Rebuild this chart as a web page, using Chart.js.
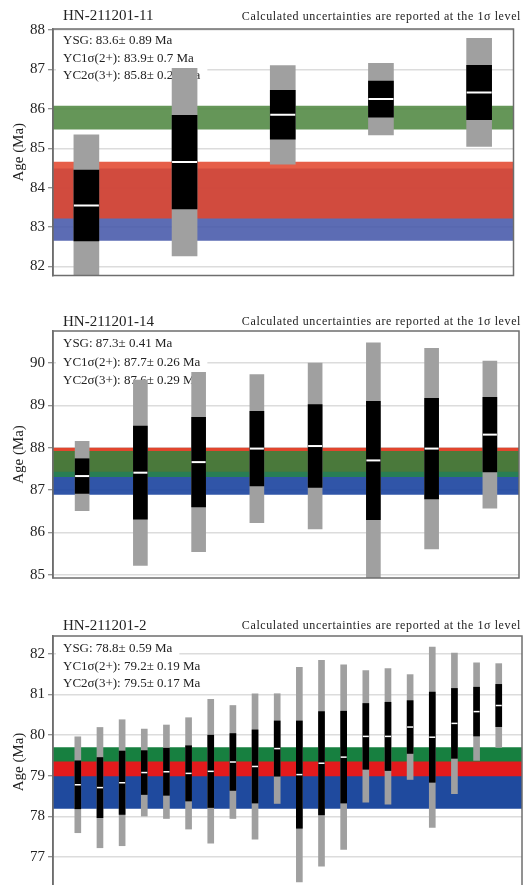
<!DOCTYPE html>
<html>
<head>
<meta charset="utf-8">
<script src="https://cdn.jsdelivr.net/npm/chart.js@4"></script>
<style>
body{margin:0;background:#fff;overflow:hidden;width:528px;height:885px;position:relative}
canvas{position:absolute;left:0}
</style>
</head>
<body>
<canvas id="c1" width="528" height="290" style="top:0px"></canvas>
<canvas id="c2" width="528" height="300" style="top:290px"></canvas>
<canvas id="c3" width="528" height="310" style="top:590px"></canvas>
<script>
const headerText = 'Calculated uncertainties are reported at the 1σ level';

// HN-211201-11
const ages1 = [83.55, 84.65, 85.85, 86.25, 86.42];
const oneSigma1 = [0.90, 1.19, 0.62, 0.46, 0.69];
const twoSigma1 = [1.79, 2.38, 1.25, 0.91, 1.37];
const yTicks1 = [82, 83, 84, 85, 86, 87, 88];
const notes1 = ['YSG: 83.6± 0.89 Ma', 'YC1σ(2+): 83.9± 0.7 Ma', 'YC2σ(3+): 85.8± 0.29 Ma'];
const bandLow1 = [82.65, 83.22, 85.48];   // YSG, YC1σ, YC2σ
const bandHigh1 = [84.49, 84.66, 86.08];

// HN-211201-14
const ages2 = [87.33, 87.41, 87.66, 87.98, 88.04, 87.70, 87.98, 88.31];
const oneSigma2 = [0.41, 1.10, 1.06, 0.88, 0.98, 1.40, 1.19, 0.88];
const twoSigma2 = [0.82, 2.19, 2.12, 1.75, 1.96, 2.78, 2.37, 1.74];
const yTicks2 = [85, 86, 87, 88, 89, 90];
const notes2 = ['YSG: 87.3± 0.41 Ma', 'YC1σ(2+): 87.7± 0.26 Ma', 'YC2σ(3+): 87.6± 0.29 Ma'];
const bandLow2 = [86.89, 87.43, 87.31];
const bandHigh2 = [87.71, 88.00, 87.92];

// HN-211201-2
const ages3 = [78.78, 78.71, 78.83, 79.08, 79.10, 79.06, 79.11, 79.34, 79.23, 79.67,
               79.03, 79.31, 79.46, 79.97, 79.97, 80.20, 79.95, 80.29, 80.58, 80.73];
const oneSigma3 = [0.59, 0.74, 0.78, 0.54, 0.58, 0.68, 0.89, 0.70, 0.90, 0.68,
                   1.32, 1.27, 1.13, 0.81, 0.84, 0.65, 1.11, 0.86, 0.60, 0.52];
const twoSigma3 = [1.18, 1.48, 1.55, 1.07, 1.15, 1.37, 1.77, 1.39, 1.79, 1.35,
                   2.64, 2.53, 2.27, 1.62, 1.67, 1.29, 2.22, 1.73, 1.20, 1.03];
const yTicks3 = [77, 78, 79, 80, 81, 82];
const notes3 = ['YSG: 78.8± 0.59 Ma', 'YC1σ(2+): 79.2± 0.19 Ma', 'YC2σ(3+): 79.5± 0.17 Ma'];
const bandLow3 = [78.19, 78.99, 79.35];
const bandHigh3 = [79.39, 79.39, 79.70];

const serif = '"Liberation Serif", "Times New Roman", serif';

function makePanel(id, title, ages, s1, s2, yTicks, notes, bLo, bHi, lay){
    let datasets = [];
    for(let k = 0; k < 3; k++){
        datasets.push({
            type: 'line', order: 40 - k*10,
            data: [{x: lay.xmin, y: bLo[k]}, {x: lay.xmax, y: bLo[k]}],
            borderColor: 'rgba(0,0,0,0)', borderWidth: 0, pointRadius: 0, fill: false
        });
        datasets.push({
            type: 'line', order: 40 - k*10,
            data: [{x: lay.xmin, y: bHi[k]}, {x: lay.xmax, y: bHi[k]}],
            borderColor: 'rgba(0,0,0,0)', borderWidth: 0, pointRadius: 0,
            fill: '-1', backgroundColor: lay.colors[k]
        });
    }
    datasets.push({
        type: 'bar', order: 3, grouped: false, barThickness: lay.barW,
        data: ages.map((a, i) => ({x: i, y: [a - s2[i], a + s2[i]]})),
        backgroundColor: '#a0a0a0'
    });
    datasets.push({
        type: 'bar', order: 2, grouped: false, barThickness: lay.barW,
        data: ages.map((a, i) => ({x: i, y: [a - s1[i], a + s1[i]]})),
        backgroundColor: '#000'
    });
    datasets.push({
        type: 'line', order: 1, showLine: false,
        data: ages.map((a, i) => ({x: i, y: a})),
        pointStyle: 'line', pointRadius: lay.barW/2, pointHoverRadius: lay.barW/2,
        pointBorderColor: '#fff', pointBorderWidth: lay.meanW
    });

    const deco = {
        id: 'deco',
        beforeDatasetsDraw(chart){
            const ctx = chart.ctx, a = chart.chartArea;
            ctx.save();
            ctx.font = '13px ' + serif;
            ctx.textBaseline = 'middle';
            notes.forEach((t, i) => {
                const y = a.top + lay.noteY[i];
                const w = ctx.measureText(t).width;
                ctx.fillStyle = '#fff';
                ctx.fillRect(a.left + 3, y - 8.5, w + 14, 17);
                ctx.fillStyle = '#222';
                ctx.fillText(t, a.left + 10, y);
            });
            ctx.restore();
        },
        afterDraw(chart){
            const ctx = chart.ctx, a = chart.chartArea;
            ctx.save();
            ctx.strokeStyle = '#6e6e6e';
            ctx.lineWidth = 1.5;
            ctx.strokeRect(a.left, a.top, a.right - a.left, a.bottom - a.top);
            ctx.fillStyle = '#222';
            ctx.textBaseline = 'middle';
            ctx.font = '15px ' + serif;
            ctx.textAlign = 'left';
            ctx.fillText(title, 63, lay.titleY);
            ctx.font = '12px ' + serif;
            ctx.letterSpacing = '0.6px';
            ctx.textAlign = 'right';
            ctx.fillText(headerText, 521, lay.titleY);
            ctx.restore();
        }
    };

    new Chart(document.getElementById(id), {
        type: 'bar',
        data: {datasets: datasets},
        options: {
            responsive: false,
            animation: false,
            layout: {padding: {top: lay.top, bottom: lay.bottom, left: 0, right: 6}},
            plugins: {legend: {display: false}, tooltip: {enabled: false}},
            scales: {
                x: {type: 'linear', display: false, offset: false, min: lay.xmin, max: lay.xmax},
                y: {
                    min: lay.ymin, max: lay.ymax,
                    afterFit: (s) => { s.width = 53; },
                    afterBuildTicks: (s) => { s.ticks = yTicks.map(v => ({value: v})); },
                    ticks: {font: {family: serif, size: 15}, color: '#222', padding: 3},
                    grid: {color: '#dcdcdc', lineWidth: 1.5, tickColor: '#6e6e6e', tickLength: 5, tickWidth: 1},
                    border: {display: true, color: '#6e6e6e', width: 1.5},
                    title: {display: true, text: 'Age (Ma)', font: {family: serif, size: 15}, color: '#222', padding: {top: 10, bottom: 0}}
                }
            }
        },
        plugins: [deco]
    });
}

makePanel('c1', 'HN-211201-11', ages1, oneSigma1, twoSigma1, yTicks1, notes1, bandLow1, bandHigh1, {
    top: 29, bottom: 10, titleY: 16.5, xmin: -0.34, xmax: 4.35, barW: 25, meanW: 2,
    ymin: 81.77, ymax: 88.03, noteY: [12, 29.5, 47],
    colors: ['rgba(70,88,170,0.88)', 'rgba(226,70,45,0.87)', 'rgba(80,135,65,0.88)']
});
makePanel('c2', 'HN-211201-14', ages2, oneSigma2, twoSigma2, yTicks2, notes2, bandLow2, bandHigh2, {
    top: 41, bottom: 6, titleY: 31.7, xmin: -0.5, xmax: 7.5, barW: 14, meanW: 2,
    ymin: 84.92, ymax: 90.76, noteY: [13, 31.5, 49.5],
    colors: ['rgba(25,67,158,0.9)', 'rgba(224,60,35,0.95)', 'rgba(39,136,64,0.8)']
});
makePanel('c3', 'HN-211201-2', ages3, oneSigma3, twoSigma3, yTicks3, notes3, bandLow3, bandHigh3, {
    top: 46, bottom: 5, titleY: 35.7, xmin: -1.12, xmax: 20.05, barW: 6, meanW: 1.5,
    ymin: 76.24, ymax: 82.44, noteY: [13, 30.5, 47.5],
    colors: ['#1f4a9e', '#e31a1c', '#178040']
});
</script>
</body>
</html>
